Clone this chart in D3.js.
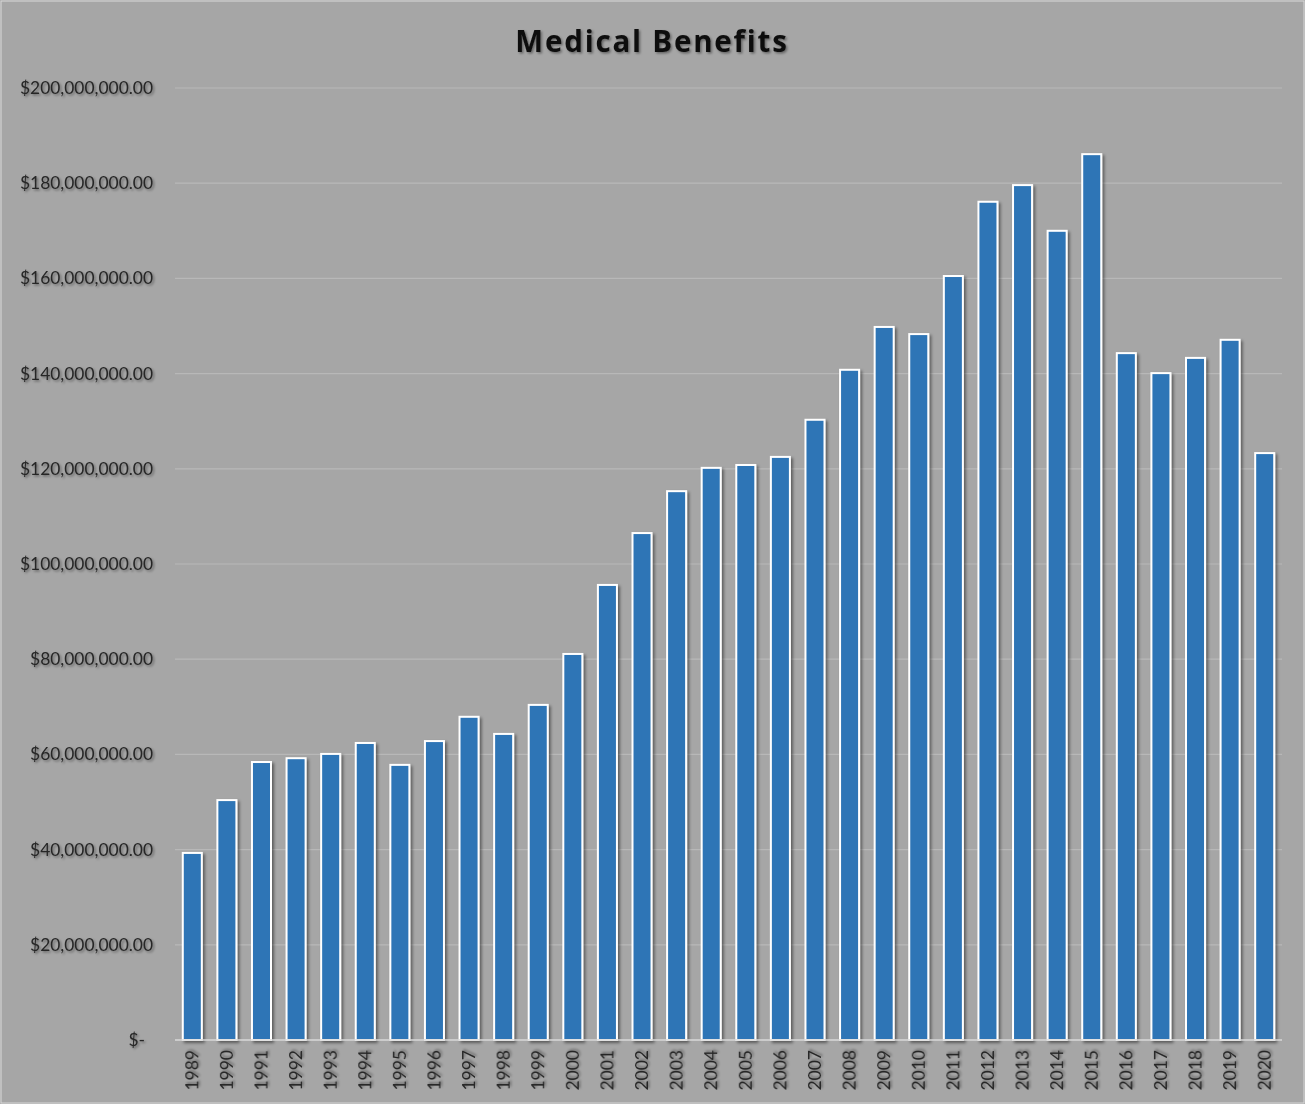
<!DOCTYPE html>
<html><head><meta charset="utf-8">
<script src="https://d3js.org/d3.v7.min.js"></script>
<style>html,body{margin:0;padding:0;background:#fff;}svg{display:block;}</style>
</head><body>
<script>
const years = ["1989","1990","1991","1992","1993","1994","1995","1996","1997","1998","1999","2000","2001","2002","2003","2004","2005","2006","2007","2008","2009","2010","2011","2012","2013","2014","2015","2016","2017","2018","2019","2020"];
const benefits = [39.3,50.4,58.4,59.2,60.1,62.4,57.8,62.8,67.9,64.3,70.4,81.1,95.6,106.5,115.3,120.2,120.8,122.5,130.3,140.8,149.8,148.3,160.5,176.1,179.6,170.0,186.1,144.3,140.1,143.3,147.1,123.3].map(v => v * 1e6);
const yTicks = [0,20e6,40e6,60e6,80e6,100e6,120e6,140e6,160e6,180e6,200e6];
const title = "Medical Benefits";

const W = 1305, H = 1104;
const m = {left:175, right:1282, top:88, bottom:1040};
const svg = d3.select("body").append("svg").attr("width", W).attr("height", H);
const defs = svg.append("defs");
const f = defs.append("filter").attr("id","sh").attr("x","-20%").attr("y","-20%").attr("width","160%").attr("height","160%");
f.append("feDropShadow").attr("dx",2).attr("dy",2).attr("stdDeviation",1.5).attr("flood-color","#000").attr("flood-opacity",0.45);
const ft = defs.append("filter").attr("id","tsh").attr("x","-10%").attr("y","-30%").attr("width","130%").attr("height","180%");
ft.append("feDropShadow").attr("dx",1.5).attr("dy",1.5).attr("stdDeviation",1.2).attr("flood-color","#000").attr("flood-opacity",0.4);

svg.append("rect").attr("x",0).attr("y",0).attr("width",W).attr("height",H).attr("fill","#a6a6a6");
svg.append("rect").attr("x",1).attr("y",1).attr("width",W-2).attr("height",H-2).attr("fill","none").attr("stroke","#d9d9d9").attr("stroke-width",1);

const x = d3.scaleBand().domain(years).range([m.left, m.right]).paddingInner(0.45).paddingOuter(0.225);
const y = d3.scaleLinear().domain([0, 200e6]).range([m.bottom, m.top]);

// gridlines
svg.append("g").selectAll("line").data(yTicks.filter(d => d > 0)).join("line")
  .attr("x1", m.left).attr("x2", m.right)
  .attr("y1", d => y(d)).attr("y2", d => y(d))
  .attr("stroke", "#b8b8b8").attr("stroke-width", 1.2);

// y labels
const fmt = d => d === 0 ? "$-" : "$" + d3.format(",.2f")(d);
svg.append("g").selectAll("text").data(yTicks).join("text")
  .attr("x", d => d === 0 ? 145 : 153).attr("y", d => y(d)).attr("dy", "0.35em")
  .attr("text-anchor", "end")
  .attr("font-family", "Lato, 'Open Sans', sans-serif").attr("font-size", 17.4)
  .attr("fill", "#262626").attr("filter", "url(#tsh)")
  .text(fmt);

// bars
svg.append("g").selectAll("rect").data(benefits).join("rect")
  .attr("x", (d,i) => x(years[i])).attr("width", x.bandwidth())
  .attr("y", d => y(d)).attr("height", d => y(0) - y(d))
  .attr("fill", "#2e75b6").attr("stroke", "#ffffff").attr("stroke-width", 2)
  .attr("filter", "url(#sh)");

// baseline
svg.append("line").attr("x1", m.left).attr("x2", m.right).attr("y1", y(0)).attr("y2", y(0))
  .attr("stroke", "#d9d9d9").attr("stroke-width", 1.5);

// x labels
svg.append("g").selectAll("text").data(years).join("text")
  .attr("transform", d => `translate(${x(d) + x.bandwidth()/2},1050) rotate(-90)`)
  .attr("dy", "0.35em").attr("text-anchor", "end")
  .attr("font-family", "Lato, 'Open Sans', sans-serif").attr("font-size", 17.5)
  .attr("fill", "#262626").attr("filter", "url(#tsh)")
  .text(d => d);

// title
svg.append("text").attr("x", 652).attr("y", 52).attr("text-anchor", "middle")
  .attr("font-family", "'Open Sans', Lato, sans-serif").attr("font-weight", "bold")
  .attr("font-size", 29.5).attr("letter-spacing", 1.8).attr("fill", "#111")
  .attr("filter", "url(#tsh)").text(title);
</script>
</body></html>
